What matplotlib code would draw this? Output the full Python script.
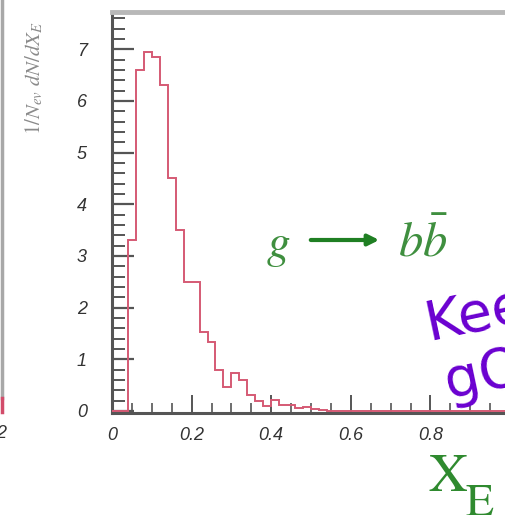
import numpy as np
import matplotlib
matplotlib.use("Agg")
import matplotlib.pyplot as plt
from matplotlib.lines import Line2D
from matplotlib.patches import FancyArrowPatch

plt.rcParams['mathtext.fontset'] = 'stix'

# histogram (bin edges in X_E, height in 1/N dN/dX_E)
x_edges = [0.00, 0.02, 0.04, 0.06, 0.08, 0.10, 0.12, 0.14, 0.16, 0.18,
           0.20, 0.22, 0.24, 0.26, 0.28, 0.30, 0.32, 0.34, 0.36, 0.38,
           0.40, 0.42, 0.44, 0.46, 0.48, 0.50, 0.52, 0.54, 1.00]
heights = [0.0, 0.0, 3.3, 6.6, 6.95, 6.85, 6.3, 4.5, 3.5, 2.5,
           2.5, 1.53, 1.33, 0.79, 0.46, 0.73, 0.6, 0.31, 0.2, 0.1,
           0.22, 0.12, 0.12, 0.06, 0.08, 0.04, 0.02, 0.0]
xticks = [0, 0.2, 0.4, 0.6, 0.8]
xtick_labels = ['0', '0.2', '0.4', '0.6', '0.8']
yticks = [0, 1, 2, 3, 4, 5, 6, 7]

W, H = 505, 521
fig = plt.figure(figsize=(W / 100, H / 100), dpi=100)
ax = fig.add_axes([112 / W, 1 - 413 / H, (510 - 112) / W, (413 - 12) / H])

ax.stairs(heights, x_edges, baseline=0, fill=False,
          color='#d55a74', linewidth=1.4, zorder=5, clip_on=False)

ax.set_xlim(0, 1.0)
ax.set_ylim(-0.04, 7.72)

ax.set_xticks(xticks)
ax.set_xticklabels(xtick_labels)
ax.set_xticks(np.arange(0, 1.0001, 0.05), minor=True)
ax.set_yticks(yticks)
ax.set_yticks(np.arange(0, 7.7, 0.2), minor=True)

for lab in ax.get_xticklabels() + ax.get_yticklabels():
    lab.set_fontstyle('italic')
    lab.set_fontfamily('Liberation Sans')
    lab.set_fontsize(13)
    lab.set_color('#333333')

ax.tick_params(axis='both', which='both', direction='in', color='#555555')
ax.tick_params(axis='y', which='major', length=16, width=1.6, pad=18)
ax.tick_params(axis='y', which='minor', length=9, width=1.4)
ax.tick_params(axis='x', which='major', length=13, width=1.4, pad=10)
ax.tick_params(axis='x', which='minor', length=7, width=1.2)

ax.spines['right'].set_visible(False)
ax.spines['left'].set_color('#555555')
ax.spines['left'].set_linewidth(2.2)
ax.spines['bottom'].set_color('#555555')
ax.spines['bottom'].set_linewidth(2.2)
ax.spines['top'].set_color('#b8b8b8')
ax.spines['top'].set_linewidth(3.5)

# y-axis title
fig.text(34 / W, 1 - 78 / H, r'$1/N_{ev}\ dN/dX_E$', rotation=90,
         ha='center', va='center', fontsize=15, color='#8a8a8a')

# process label
green = '#3f8f3f'
fig.text(266 / W, 1 - 257 / H, r'$g$', fontsize=34, color=green,
         ha='left', va='baseline')
fig.add_artist(FancyArrowPatch((308 / W, 1 - 240 / H), (382 / W, 1 - 240 / H),
                               transform=fig.transFigure, arrowstyle='-|>',
                               mutation_scale=16, linewidth=3.0, color='#1f7f23'))
fig.text(398 / W, 1 - 257 / H, r'$b\bar{b}$', fontsize=35, color=green,
         ha='left', va='baseline')

# axis title X_E
fig.text(428 / W, 1 - 491 / H, r'$\mathrm{X}$', fontsize=39, color='#2f8a2f',
         ha='left', va='baseline')
fig.text(465 / W, 1 - 515 / H, r'$\mathrm{E}$', fontsize=33, color='#2f8a2f',
         ha='left', va='baseline')

# handwritten note, cut by the picture edge
purple = '#6a00d0'
fig.text(420 / W, 1 - 340 / H, 'Keep', fontsize=40, color=purple,
         ha='left', va='baseline', rotation=12, family='DejaVu Sans')
fig.text(440 / W, 1 - 398 / H, 'gQCD', fontsize=40, color=purple,
         ha='left', va='baseline', rotation=12, family='DejaVu Sans')

# edge of the neighbouring panel on the left
fig.add_artist(Line2D([1.5 / W, 1.5 / W], [1 - 0 / H, 1 - 398 / H],
                      transform=fig.transFigure, color='#a8a8a8', linewidth=2.5))
fig.add_artist(Line2D([1.5 / W, 1.5 / W], [1 - 398 / H, 1 - 412 / H],
                      transform=fig.transFigure, color='#d24c6a', linewidth=2.5))
fig.text(-4 / W, 1 - 433 / H, '2', fontsize=13, fontstyle='italic',
         color='#333333', ha='left', va='center', family='Liberation Sans')

fig.savefig('out.png', dpi=100)
